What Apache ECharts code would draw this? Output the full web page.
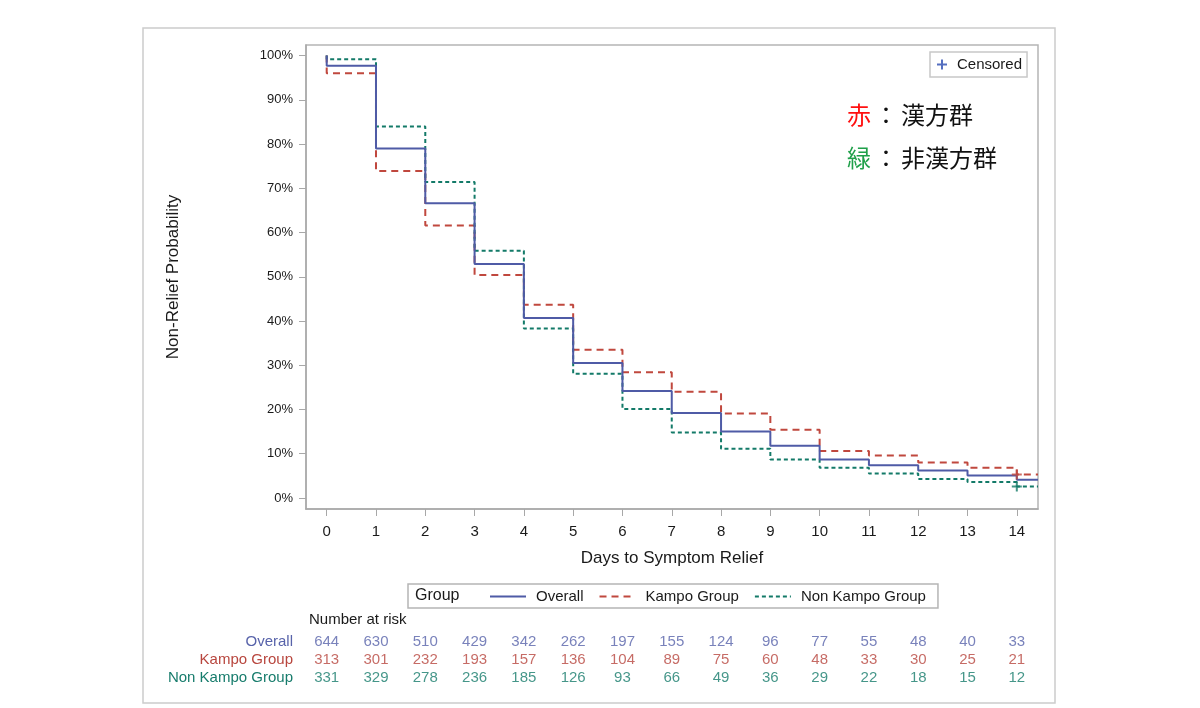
<!DOCTYPE html>
<html>
<head>
<meta charset="utf-8">
<script src="https://cdn.jsdelivr.net/npm/echarts@6/dist/echarts.min.js"></script>
<style>html,body{margin:0;padding:0;background:#fff}#c{width:1200px;height:708px}</style>
</head>
<body>
<div id="c"></div>
<script>
// ---- data ----
var days = [0,1,2,3,4,5,6,7,8,9,10,11,12,13,14];
var startValue = 100;
var xMin = -0.42, xMax = 14.43;
var yMin = -2.5, yMax = 102.4;
var yTicks = [0,10,20,30,40,50,60,70,80,90,100];
var overall  = [97.7,79.0,66.6,52.9,40.7,30.5,24.2,19.2,15.0,11.8,8.7,7.4,6.2,5.1,4.1];
var kampo    = [96.0,73.9,61.6,50.4,43.7,33.5,28.4,24.0,19.1,15.4,10.6,9.6,8.0,6.8,5.3];
var nonKampo = [99.2,84.0,71.4,55.9,38.3,28.1,20.1,14.8,11.1,8.7,6.8,5.5,4.3,3.6,2.6];
var groups = ['Overall','Kampo Group','Non Kampo Group'];
var overallRisk  = [644,630,510,429,342,262,197,155,124,96,77,55,48,40,33];
var kampoRisk    = [313,301,232,193,157,136,104,89,75,60,48,33,30,25,21];
var nonKampoRisk = [331,329,278,236,185,126,93,66,49,36,29,22,18,15,12];
var censorDay = 14;

var C_BLUE = '#4f5ba6', C_RED = '#c0483e', C_GREEN = '#137a68';
var T_BLUE = '#5863aa', T_RED = '#b8463e', T_GREEN = '#177c6c';
var FONT = '"Liberation Sans", Arial, sans-serif';
var JP = '"Noto Sans CJK JP"';
var PLUS = 'path://M4,0H6V4H10V6H6V10H4V6H0V4H4Z';

function km(vals){
  var d = [[days[0], startValue]];
  for (var i = 0; i < days.length; i++) d.push([days[i], vals[i]]);
  d.push([xMax, vals[vals.length-1]]);
  return d;
}
function risk(vals, row){
  return vals.map(function(v,i){ return [days[i], row, v]; });
}
function riskSeries(name, vals, row, color){
  return {
    name: name + ' risk', type: 'scatter', xAxisIndex: 1, yAxisIndex: 1,
    data: risk(vals, row), symbolSize: 1, itemStyle: {color: 'rgba(0,0,0,0)'},
    silent: true,
    label: {show: true, position: 'inside', color: color, fontSize: 15, fontFamily: FONT,
      formatter: function(p){ return p.value[2]; }}
  };
}

var chart = echarts.init(document.getElementById('c'), null, {renderer: 'canvas'});
var option = {
  animation: false,
  backgroundColor: '#fff',
  textStyle: {fontFamily: FONT},
  grid: [
    {left: 306, top: 45, right: 162, bottom: 199, show: true, borderColor: '#b5b5b5', borderWidth: 1.5},
    {left: 306, top: 633, right: 162, height: 54}
  ],
  xAxis: [
    {type: 'value', gridIndex: 0, min: xMin, max: xMax,
     axisLine: {onZero: false, lineStyle: {color: '#a8a8a8', width: 1.5}},
     axisTick: {customValues: days, length: 7, lineStyle: {color: '#a8a8a8'}},
     axisLabel: {customValues: days, margin: 15, fontSize: 15, color: '#1a1a1a', fontFamily: FONT},
     splitLine: {show: false},
     name: 'Days to Symptom Relief', nameLocation: 'middle', nameGap: 41,
     nameTextStyle: {fontSize: 17, color: '#1a1a1a', fontFamily: FONT}},
    {type: 'value', gridIndex: 1, min: xMin, max: xMax, show: false}
  ],
  yAxis: [
    {type: 'value', gridIndex: 0, min: yMin, max: yMax,
     axisLine: {show: true, onZero: false, lineStyle: {color: '#a8a8a8', width: 1.5}},
     axisTick: {show: true, customValues: yTicks, length: 7, lineStyle: {color: '#a8a8a8'}},
     axisLabel: {customValues: yTicks, formatter: '{value}%', margin: 13, fontSize: 13, color: '#1a1a1a', fontFamily: FONT},
     splitLine: {show: false},
     name: 'Non-Relief Probability', nameLocation: 'middle', nameGap: 124, nameRotate: 90,
     nameTextStyle: {fontSize: 17, color: '#1a1a1a', fontFamily: FONT}},
    {type: 'category', gridIndex: 1, data: groups, inverse: true,
     axisLine: {show: false}, axisTick: {show: false},
     axisLabel: {interval: 0, margin: 13, fontSize: 15, fontFamily: FONT,
       formatter: function(v, i){ return '{g' + i + '|' + v + '}'; },
       rich: {g0: {color: T_BLUE, fontSize: 15}, g1: {color: T_RED, fontSize: 15}, g2: {color: T_GREEN, fontSize: 15}}}}
  ],
  legend: [
    {data: groups, left: 408, top: 584, orient: 'horizontal',
     borderColor: '#b5b5b5', borderWidth: 1.5, padding: [5, 12, 4, 81],
     itemWidth: 36, itemHeight: 12, itemGap: 15,
     itemStyle: {opacity: 0, borderWidth: 0},
     textStyle: {fontSize: 15, color: '#1a1a1a', fontFamily: FONT, padding: [0,0,0,5]}},
    {data: ['Censored'], left: 930, top: 52, orient: 'horizontal',
     borderColor: '#c8c8c8', borderWidth: 1.5, padding: [5, 5, 5, 7],
     itemWidth: 10, itemHeight: 10,
     textStyle: {fontSize: 15, color: '#1a1a1a', fontFamily: FONT, padding: [0,0,0,5]}}
  ],
  graphic: [
    {type: 'rect', shape: {x: 143, y: 28, width: 912, height: 675}, style: {fill: 'none', stroke: '#cccccc', lineWidth: 1.5}, silent: true, z: -1},
    {type: 'text', left: 415, top: 588, style: {text: 'Group', fontSize: 16, fill: '#1a1a1a', fontFamily: FONT}},
    {type: 'text', left: 309, top: 612, style: {text: 'Number at risk', fontSize: 15, fill: '#1a1a1a', fontFamily: FONT}},
    {type: 'text', left: 847, top: 103, style: {
      text: '{r|赤}{c|：}{k|漢方群}', rich: {
        r: {fill: '#ff1010', fontSize: 24, fontFamily: JP},
        c: {fill: '#111', fontSize: 24, fontFamily: JP, padding: [0, 3, 0, 3]},
        k: {fill: '#111', fontSize: 24, fontFamily: JP}}}},
    {type: 'text', left: 847, top: 146, style: {
      text: '{g|緑}{c|：}{k|非漢方群}', rich: {
        g: {fill: '#20a04a', fontSize: 24, fontFamily: JP},
        c: {fill: '#111', fontSize: 24, fontFamily: JP, padding: [0, 3, 0, 3]},
        k: {fill: '#111', fontSize: 24, fontFamily: JP}}}}
  ],
  series: [
    {name: 'Overall', type: 'line', step: 'end', data: km(overall), showSymbol: false, symbol: 'none',
     lineStyle: {color: C_BLUE, width: 2, type: 'solid'}, itemStyle: {color: C_BLUE}, z: 4},
    {name: 'Kampo Group', type: 'line', step: 'end', data: km(kampo), showSymbol: false, symbol: 'none',
     lineStyle: {color: C_RED, width: 2, type: [7, 5]}, itemStyle: {color: C_RED}, z: 3},
    {name: 'Non Kampo Group', type: 'line', step: 'end', data: km(nonKampo), showSymbol: false, symbol: 'none',
     lineStyle: {color: C_GREEN, width: 2, type: [4, 3]}, itemStyle: {color: C_GREEN}, z: 3},
    {name: 'Censored', type: 'scatter', symbol: PLUS, symbolSize: 10, itemStyle: {color: '#2a4bb0'}, z: 5,
     data: [
       {value: [censorDay, kampo[days.indexOf(censorDay)]], itemStyle: {color: C_RED}},
       {value: [censorDay, nonKampo[days.indexOf(censorDay)]], itemStyle: {color: C_GREEN}}
     ]},
    riskSeries('Overall', overallRisk, 0, T_BLUE),
    riskSeries('Kampo Group', kampoRisk, 1, T_RED),
    riskSeries('Non Kampo Group', nonKampoRisk, 2, T_GREEN)
  ]
};
chart.setOption(option);
</script>
</body>
</html>
